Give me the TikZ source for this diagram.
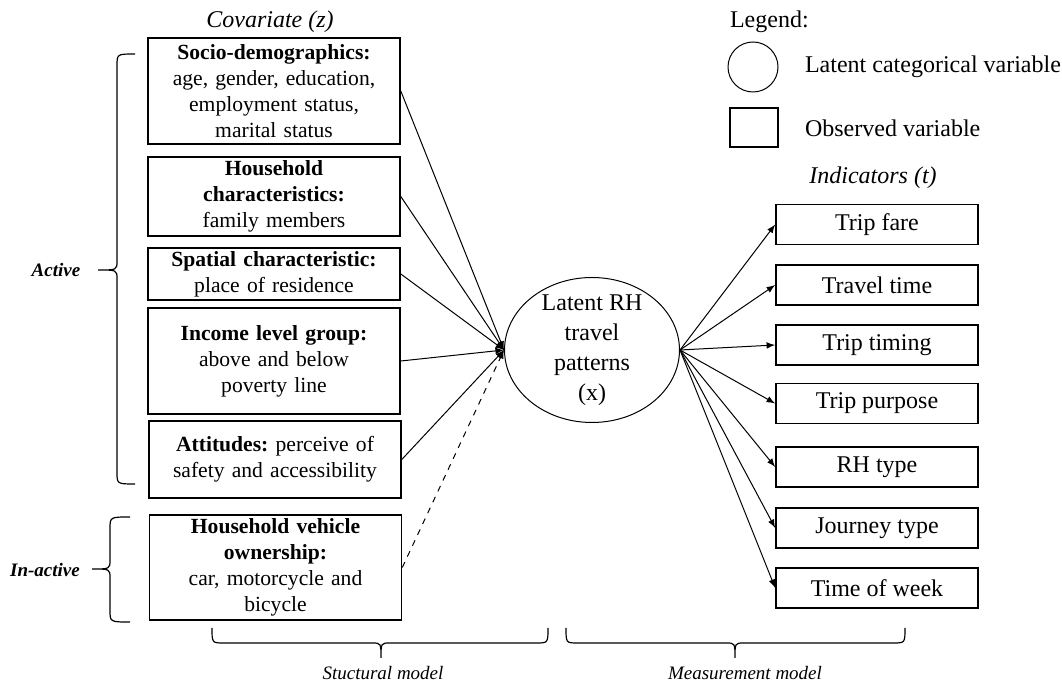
\documentclass[tikz,border=0pt]{standalone}
\usepackage{fontspec}
\setmainfont{Liberation Serif}
\usetikzlibrary{shapes.geometric}
\def\leftbrace(#1:#2:#3)(#4:#5:#6){\draw[line width=0.6pt] (#1,#4) .. controls (#2,#4) .. (#2,{#4+12}) -- (#2,{#5-9}) .. controls (#2,#5) .. (#3,#5) .. controls (#2,#5) .. (#2,{#5+9}) -- (#2,{#6-12}) .. controls (#2,#6) .. (#1,#6);}
\def\downbrace(#1:#2:#3)(#4:#5:#6){\draw[line width=0.6pt] (#1,#4) .. controls (#1,#5) .. ({#1+12},#5) -- ({#2-9},#5) .. controls (#2,#5) .. (#2,#6) .. controls (#2,#5) .. ({#2+9},#5) -- ({#3-12},#5) .. controls (#3,#5) .. (#3,#4);}
\tikzset{
	covbox/.style={draw, line width=0.8pt, minimum width=126pt, text width=122pt, align=center, inner xsep=2pt, inner ysep=0.5pt, font=\fontsize{10.8}{13}\selectfont\frenchspacing},
	indbox/.style={draw, line width=0.8pt, minimum width=101pt, minimum height=20pt, inner sep=0pt, font=\fontsize{12}{14}\selectfont},
	bigtext/.style={font=\fontsize{12}{15}\selectfont},
	sidetext/.style={font=\bfseries\itshape\fontsize{9.5}{11}\selectfont},
	modeltext/.style={font=\itshape\fontsize{9.5}{11}\selectfont},
	link/.style={line width=0.5pt, -latex},
}

\begin{document}
\begin{tikzpicture}[x=0.5pt, y=-0.5pt]
		%%%%% START %%%%%
		\fill[white] (0, 0) rectangle (1062, 683);
		\useasboundingbox (0, 0) rectangle (1062, 683);
		
		\node[bigtext, font=\itshape\fontsize{12}{15}\selectfont] (cov) at (270, 22) {Covariate (z)};
		
		\node[covbox, minimum height=53pt] (socio) at (274, 91) {\textbf{Socio-demographics:}\\ age, gender, education,\\ employment status,\\ marital status};
		\node[covbox, minimum height=39.5pt] (house) at (274, 196.5) {\textbf{Household}\\ \textbf{characteristics:}\\ family members};
		\node[covbox, minimum height=26pt] (spatial) at (274, 274) {\textbf{Spatial characteristic:}\\ place of residence};
		\node[covbox, minimum height=53pt] (income) at (274, 361) {\textbf{Income level group:}\\ above and below\\ poverty line};
		\node[covbox, minimum height=38.5pt] (attitude) at (275, 459.5) {\textbf{Attitudes:} perceive of\\ safety and accessibility};
		\node[covbox, minimum height=52.5pt] (vehicle) at (275.5, 567.5) {\textbf{Household vehicle}\\ \textbf{ownership:}\\ car, motorcycle and\\ bicycle};
		
		\node[ellipse, draw, line width=0.5pt, minimum width=87.5pt, minimum height=72.5pt] (latent) at (592, 350) {};
		\node[bigtext, align=center] (latenttext) at (latent.center) {Latent RH\\ travel\\ patterns\\ (x)};
		
		\foreach \from in {socio, house, spatial, income, attitude}
			\draw[link] (\from.east) -- (latent.west);
		\draw[link, dashed] (vehicle.east) -- (latent.west);
		
		\node[bigtext, anchor=west] (legend) at (723, 22) {Legend:};
		\node[circle, draw, line width=0.5pt, minimum size=25pt] (legcircle) at (753, 67) {};
		\node[bigtext, anchor=west] (legcircletext) at (798, 67) {Latent categorical variable};
		\node[draw, line width=0.8pt, minimum width=24pt, minimum height=19.5pt] (legbox) at (754, 127.5) {};
		\node[bigtext, anchor=west] (legboxtext) at (798, 128) {Observed variable};
		
		\node[bigtext, font=\itshape\fontsize{12}{15}\selectfont] (indic) at (873, 178) {Indicators (t)};
		
		\foreach \name/\y/\txt in {fare/224.5/Trip fare, traveltime/285/Travel time, timing/345/Trip timing, purpose/403.5/Trip purpose, rhtype/467/RH type, journey/528/Journey type, week/588/Time of week}{
			\node[indbox] (\name) at (877, \y) {\txt};
			\draw[link] (latent.east) -- (\name.west);
		}
		
		\leftbrace(135:117:98)(54:270:484);
		\node[sidetext] (active) at (56, 270) {Active};
		\leftbrace(130:110:92)(517:569:622);
		\node[sidetext] (inactive) at (45, 570) {In-active};
		
		\downbrace(212:381:548)(628:643:658);
		\node[modeltext] (struct) at (383, 673) {Stuctural model};
		\downbrace(566:735:905)(628:643:658);
		\node[modeltext] (measure) at (745, 673) {Measurement model};
		%%%%% END %%%%%
	\end{tikzpicture}
\end{document}
